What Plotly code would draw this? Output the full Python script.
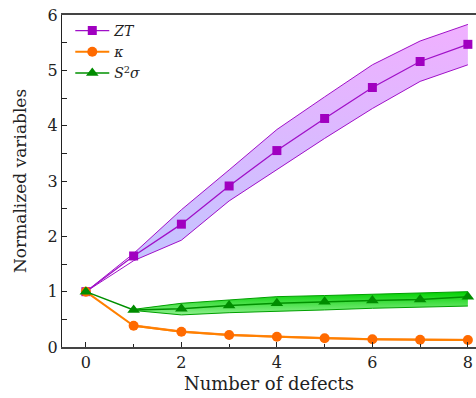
import plotly.graph_objects as go

defects = [0, 1, 2, 3, 4, 5, 6, 7, 8]

zt = [1.0, 1.645, 2.22, 2.91, 3.55, 4.13, 4.69, 5.16, 5.47]
zt_upper = [1.0, 1.69, 2.48, 3.2, 3.93, 4.52, 5.10, 5.53, 5.83]
zt_lower = [1.0, 1.56, 1.93, 2.64, 3.21, 3.77, 4.31, 4.80, 5.10]

kappa = [1.0, 0.385, 0.277, 0.217, 0.186, 0.157, 0.139, 0.132, 0.127]
kappa_upper = [1.0, 0.40, 0.29, 0.23, 0.197, 0.168, 0.150, 0.143, 0.138]
kappa_lower = [1.0, 0.375, 0.267, 0.207, 0.176, 0.147, 0.129, 0.122, 0.117]

s2s = [1.0, 0.67, 0.69, 0.75, 0.79, 0.82, 0.84, 0.86, 0.91]
s2s_upper = [1.0, 0.68, 0.79, 0.85, 0.91, 0.93, 0.95, 0.97, 1.0]
s2s_lower = [1.0, 0.66, 0.58, 0.62, 0.64, 0.67, 0.70, 0.72, 0.74]

x_ticks = [0, 2, 4, 6, 8]
y_ticks = [0, 1, 2, 3, 4, 5, 6]

FONT = "DejaVu Serif"

fig = go.Figure()


def band(x, up, lo, line_color, colorscale):
    fig.add_trace(go.Scatter(x=x[1:], y=up[1:], mode="lines",
                             line=dict(color=line_color, width=1),
                             showlegend=False, hoverinfo="skip"))
    fig.add_trace(go.Scatter(x=x[1:], y=lo[1:], mode="lines",
                             line=dict(color=line_color, width=1),
                             fill="tonexty",
                             fillgradient=dict(type="vertical", colorscale=colorscale),
                             showlegend=False, hoverinfo="skip"))


band(defects, zt_upper, zt_lower, "#a010c8",
     [[0, "#c4c4ff"], [1, "#f0b0ff"]])
band(defects, s2s_upper, s2s_lower, "#00a000",
     [[0, "#90f090"], [1, "#00d000"]])
band(defects, kappa_upper, kappa_lower, "#ff8c30",
     [[0, "#ffb070"], [1, "#ff9040"]])

fig.add_trace(go.Scatter(x=defects[:2], y=[zt_upper[0], zt_upper[1]], mode="lines",
                         line=dict(color="#a010c8", width=1), showlegend=False))
fig.add_trace(go.Scatter(x=defects[:2], y=[zt_lower[0], zt_lower[1]], mode="lines",
                         line=dict(color="#a010c8", width=1), showlegend=False))

fig.add_trace(go.Scatter(x=defects, y=zt, mode="lines+markers", name="<i>ZT</i>",
                         line=dict(color="#a010c8", width=1.3),
                         marker=dict(symbol="square", size=9, color="#a000c0")))
fig.add_trace(go.Scatter(x=defects, y=kappa, mode="lines+markers", name="<i>κ</i>",
                         line=dict(color="#ff8000", width=2),
                         marker=dict(symbol="circle", size=10, color="#ff6a00")))
fig.add_trace(go.Scatter(x=defects, y=s2s, mode="lines+markers",
                         name="<i>S</i><sup>2</sup><i>σ</i>",
                         line=dict(color="#009000", width=1.5),
                         marker=dict(symbol="triangle-up", size=11, color="#008c00")))

fig.update_layout(
    width=476, height=398,
    margin=dict(l=62, r=0, t=15, b=51),
    plot_bgcolor="white", paper_bgcolor="white",
    font=dict(family=FONT, size=16, color="#222222"),
    showlegend=True,
    legend=dict(x=0.02, y=1.0, xanchor="left", yanchor="top",
                traceorder="normal",
                bgcolor="rgba(0,0,0,0)", font=dict(family=FONT, size=14),
                itemwidth=34, tracegroupgap=0),
    xaxis=dict(range=[-0.5, 8.17], tickvals=x_ticks, ticks="inside", ticklen=5,
               tickcolor="#222", showline=True, linecolor="#444", linewidth=1.5,
               mirror=True, showgrid=False, zeroline=False, automargin=False,
               minor=dict(ticks="inside", dtick=1, ticklen=3, tickcolor="#222"),
               title=dict(text="Number of defects", font=dict(size=18), standoff=6),
               tickfont=dict(size=16)),
    yaxis=dict(range=[0, 6], tickvals=y_ticks, ticks="inside", ticklen=5, tickcolor="#222",
               showline=True, linecolor="#222", linewidth=1.2, showgrid=False,
               zeroline=False, automargin=False,
               minor=dict(ticks="inside", dtick=0.5, ticklen=5, tickcolor="#222"),
               title=dict(text="Normalized variables", font=dict(size=17), standoff=16),
               tickfont=dict(size=16)),
)

fig.write_html(
    "out.html",
    config={"displayModeBar": False},
    post_script="document.body.style.margin='0';document.body.style.overflow='hidden';",
)
